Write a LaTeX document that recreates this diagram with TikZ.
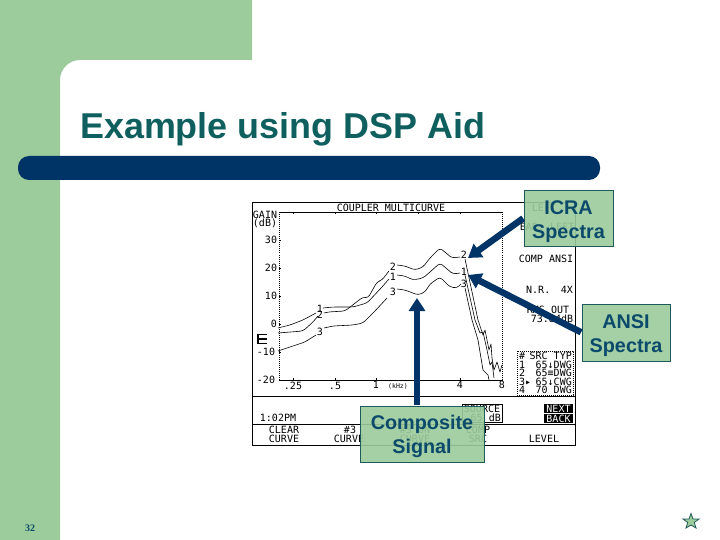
\documentclass[tikz,border=0pt]{standalone}
\usepackage{fontspec}
\setmainfont{Liberation Sans}
\newfontfamily\pixfont{DejaVu Sans Mono}
\newfontfamily\serfont{Liberation Serif}
\usetikzlibrary{arrows.meta,calc}
\definecolor{bandgreen}{HTML}{9CCB9C}
\definecolor{navy}{HTML}{003366}
\definecolor{titleteal}{HTML}{0F5F5F}
\definecolor{labelblue}{HTML}{0B4A6B}
\definecolor{boxedge}{HTML}{1F5A5A}
\tikzset{
  px/.style={inner sep=0pt,font=\pixfont\fontsize{10}{10}\selectfont,text=black},
  pxsmall/.style={inner sep=0pt,font=\pixfont\fontsize{6.5}{7}\selectfont,text=black},
  pxinv/.style={px,text=white},
  chartline/.style={draw=black,line width=0.7pt},
  dotline/.style={draw=black,line width=0.7pt,dash pattern=on 0.8pt off 1.2pt},
  curve/.style={draw=black,line width=0.6pt,line join=round,rounded corners=3pt},
  jagged/.style={draw=black,line width=0.6pt,line join=round},
  callout/.style={draw=boxedge,line width=0.9pt,fill=bandgreen,fill opacity=0.9,text opacity=1,text=labelblue,font=\bfseries\fontsize{19.8}{24}\selectfont,align=center,inner sep=0pt,minimum height=56pt},
  bigarrow/.style={draw=navy,line width=6.5pt,-{Triangle[length=13pt,width=16pt]}},
}
\begin{document}
\begin{tikzpicture}[x=1pt,y=-1pt]
\useasboundingbox (0,0) rectangle (720,540);
\fill[white] (0,0) rectangle (720,540);
\fill[bandgreen] (0,0) -- (252,0) -- (252,60) -- (80,60) .. controls (69,60) and (60,69) .. (60,80) -- (60,540) -- (0,540) -- cycle;
\node[anchor=base west,inner sep=0pt,text=titleteal,font=\bfseries\fontsize{35.9}{38}\selectfont] (title) at (80,139) {Example using DSP Aid};
\fill[navy,rounded corners=11pt] (18,156) rectangle (600,180);
\node[inner sep=0pt,font=\serfont\bfseries\fontsize{10}{12}\selectfont,text=labelblue] (pagenum) at (30,528) {32};
\draw[draw=boxedge,fill=bandgreen,line width=0.8pt,line join=miter] (691,513.5) -- (693,519) -- (699,519) -- (694.3,522.5) -- (696,528) -- (691,525) -- (686,528) -- (687.7,522.5) -- (683,519) -- (689,519) -- cycle;

% chart frame
\draw[chartline] (252,202) rectangle (575.5,445);
\draw[chartline] (279,212.5) -- (502.5,212.5);
\draw[dotline] (279,212.5) -- (279,380);
\draw[dotline] (502.5,212.5) -- (502.5,380);
\draw[chartline] (279,380) -- (502.5,380);
\draw[chartline] (252,396) -- (575.5,396);
\draw[chartline] (252,424) -- (575.5,424);
\foreach \yy in {240,268,296,324,352}{\draw[chartline] (279,\yy) -- (281,\yy);}
\foreach \xx in {293,335,376,418,460}{\draw[chartline] (\xx,212.5) -- (\xx,214.5);\draw[chartline] (\xx,380) -- (\xx,378);}

% chart text
\node[px] (t1) at (391,207.5) {COUPLER MULTICURVE};
\node[px] (t2) at (265,215) {GAIN};
\node[px] (t3) at (265,223.5) {(dB)};
\node[px] (y30) at (271,240) {30};
\node[px] (y20) at (271,268) {20};
\node[px] (y10) at (271,296) {10};
\node[px] (y0) at (274,324) {0};
\node[px] (ym10) at (266,352) {-10};
\node[px] (ym20) at (266,380) {-20};
\node[px] (x25) at (293,386) {.25};
\node[px] (x5) at (335,386) {.5};
\node[px] (x1) at (376,385) {1};
\node[pxsmall] (xk) at (398,386.5) {(kHz)};
\node[px] (x2) at (418,386) {2};
\node[px] (x4) at (460,385) {4};
\node[px] (x8) at (502,385) {8};
\node[px] (clock) at (278,418) {1:02PM};
\node[px] (clr1) at (284,430) {CLEAR};
\node[px] (clr2) at (284,439) {CURVE};
\node[px] (cur1) at (350,430) {\#3};
\node[px] (cur2) at (349,439) {CURVE};
\node[px] (on1) at (415,430) {\#3 ON};
\node[px] (on2) at (415,439) {CURVE};
\node[px] (comp1) at (478,430) {COMP};
\node[px] (comp2) at (478,439) {SRC};
\node[px] (lvl) at (544,439) {LEVEL};
\node[px] (r0) at (544,208) {LEFT};
\node[px] (r1) at (547,227) {EAR: LEFT};
\node[px] (r2) at (546,259) {COMP ANSI};
\node[px,anchor=west] (r3) at (526,290) {N.R.};
\node[px,anchor=east] (r4) at (573,290) {4X};
\node[px] (r5) at (548,310) {RMS OUT};
\node[px] (r6) at (552,319) {73.84dB};

% F icon
\draw[black,line width=1.5pt] (267,334.5) -- (258,334.5) -- (258,343.5) -- (267,343.5);
\draw[black,line width=1.3pt] (258,339) -- (267,339);

% source box
\draw[chartline] (462,404) rectangle (502,422);
\node[px] (s1) at (482,409) {SOURCE};
\node[px,anchor=east] (s2) at (501,418) {65 dB};

% next back
\node[pxinv,fill=black,minimum width=29pt,minimum height=9pt] (nxt) at (558.5,408.5) {NEXT};
\node[pxinv,fill=black,minimum width=29pt,minimum height=9pt] (bck) at (558.5,418.5) {BACK};

% table
\draw[dotline] (517,351) rectangle (573,395);
\node[px,anchor=west] (h0) at (519,355.5) {\#};
\node[px,anchor=east] (h1) at (572,355.5) {SRC TYP};
\node[px,anchor=west] (a1) at (519,365) {1};
\node[px,anchor=east] (a2) at (572,365) {65↓DWG};
\node[px,anchor=west] (b1) at (519,373) {2};
\node[px,anchor=east] (b2) at (572,373) {65≡DWG};
\node[px,anchor=west] (c1) at (519,381.5) {3▸};
\node[px,anchor=east] (c2) at (572,381.5) {65↓CWG};
\node[px,anchor=west] (d1) at (519,389.5) {4};
\node[px,anchor=east] (d2) at (572,389.5) {70 DWG};

% curves
\draw[curve] (278,328) -- (290,325) -- (303,320) -- (316,313);
\draw[curve] (323,308) -- (333,307) -- (347,307) -- (353,307) -- (367,303) -- (382,287) -- (389,279);
\draw[curve] (397,275) -- (405,276) -- (413,280) -- (423,278) -- (430,272) -- (440,263) -- (453,274) -- (460,273);
\draw[curve] (278,333) -- (303,331) -- (313,322) -- (318,316);
\draw[curve] (324,313) -- (328,312) -- (345,311) -- (354,304) -- (363,297) -- (368,298) -- (377,282) -- (382,280) -- (389,271);
\draw[curve] (397,265) -- (405,266) -- (415,270) -- (423,267) -- (430,258) -- (440,248) -- (452,258) -- (460,257);
\draw[curve] (278,351) -- (305,342) -- (316,335);
\draw[curve] (324,328) -- (333,326) -- (353,325) -- (363,323) -- (375,311) -- (387,298);
\draw[curve] (397,289) -- (405,290) -- (418,295) -- (425,292) -- (430,284) -- (440,277) -- (450,287) -- (457,288) -- (461,284);
% roll-off
\draw[jagged] (465,259) -- (478,320) -- (483,335) -- (485,330) -- (489,350) -- (491,344) -- (492,358) -- (494,370) -- (497,362) -- (500,372) -- (502,365);
\draw[jagged] (465,275) -- (475,320) -- (480,333) -- (483,332) -- (487,350) -- (490,365) -- (492,362) -- (494,378);
\draw[jagged] (465,288) -- (472,320) -- (478,340) -- (483,370) -- (488,375) -- (489,380);
\node[px] (l1a) at (320,309) {1};
\node[px] (l2a) at (320,314.5) {2};
\node[px] (l3a) at (320,332) {3};
\node[px] (l2b) at (393,267) {2};
\node[px] (l1b) at (393,276.5) {1};
\node[px] (l3b) at (393,292) {3};
\node[px] (l2c) at (464,255) {2};
\node[px] (l1c) at (464,272) {1};
\node[px] (l3c) at (464,284) {3};

% callouts
\node[callout,minimum width=89pt] (icra) at (568.5,218) {\rule{0pt}{22pt}ICRA\\Spectra};
\node[callout,minimum width=88pt,minimum height=57pt] (ansi) at (626,332.5) {\rule{0pt}{20pt}ANSI\\Spectra};
\node[callout,minimum width=124pt] (compo) at (422,434) {\rule{0pt}{20pt}Composite\\Signal};
\coordinate (icratip) at (468,258);
\coordinate (ansitip) at (468,275);
\coordinate (compotip) at (417,298);
\draw[bigarrow,shorten <=0.5pt] (icra.west) -- (icratip);
\draw[bigarrow,shorten <=0.5pt] (ansi.west) -- (ansitip);
\draw[bigarrow,shorten <=0.5pt] (compo.north -| compotip) -- (compotip);
\end{tikzpicture}
\end{document}
